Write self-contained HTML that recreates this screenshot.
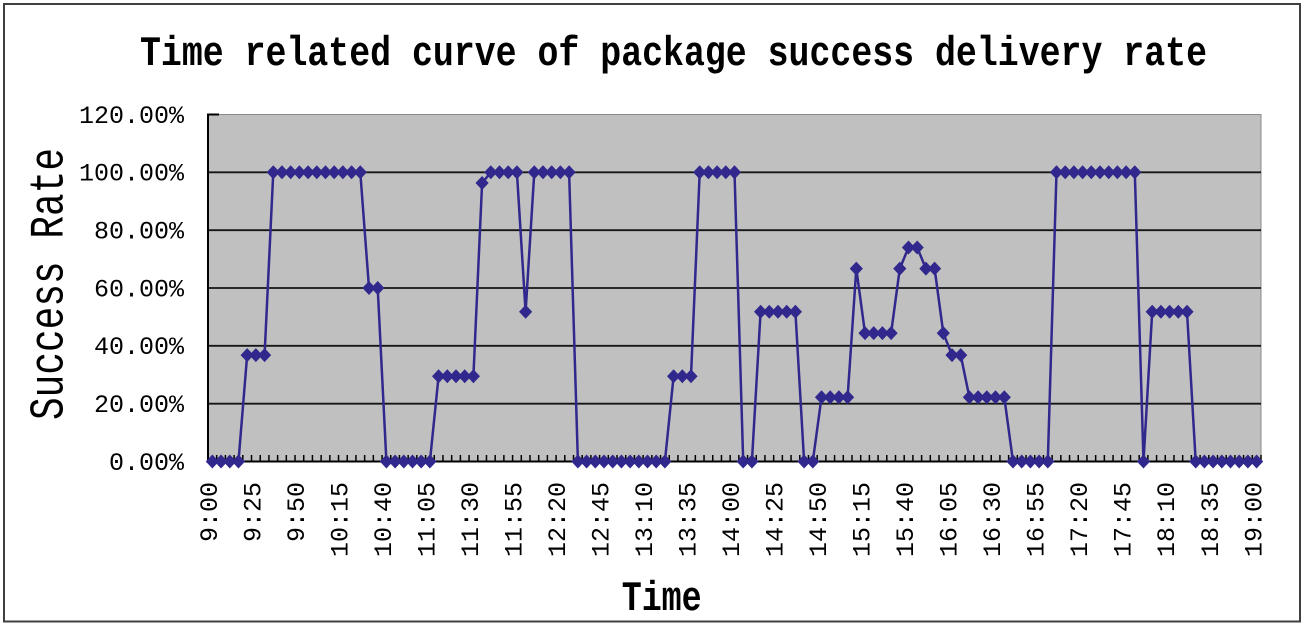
<!DOCTYPE html>
<html>
<head>
<meta charset="utf-8">
<style>
html,body{margin:0;padding:0;background:#fff;}
svg{display:block;}
text{font-family:"Liberation Mono","DejaVu Sans Mono",monospace;fill:#000;}
</style>
</head>
<body>
<svg width="1305" height="628" viewBox="0 0 1305 628" xmlns="http://www.w3.org/2000/svg">
<defs>
<marker id="dm" markerUnits="userSpaceOnUse" viewBox="-8 -8 16 16" markerWidth="16" markerHeight="16" refX="0" refY="0" overflow="visible">
<path d="M0,-7 L6.6,0 L0,7 L-6.6,0 Z" fill="#30288c"/>
</marker>
</defs>
<rect x="0" y="0" width="1305" height="628" fill="#fff"/>
<rect x="4" y="4" width="1296" height="617.5" fill="#fff" stroke="#404040" stroke-width="2"/>

<!-- Title -->
<text x="140" y="65" font-size="42" font-weight="bold" textLength="1067" lengthAdjust="spacingAndGlyphs">Time related curve of package success delivery rate</text>

<!-- Plot area -->
<rect x="208" y="114.5" width="1053" height="347" fill="#c0c0c0" stroke="#8a8a8a" stroke-width="1"/>
<g stroke="#151515" stroke-width="1.8">
<line x1="208" y1="172.33" x2="1261" y2="172.33"/>
<line x1="208" y1="230.17" x2="1261" y2="230.17"/>
<line x1="208" y1="288" x2="1261" y2="288"/>
<line x1="208" y1="345.83" x2="1261" y2="345.83"/>
<line x1="208" y1="403.67" x2="1261" y2="403.67"/>
</g>
<line x1="208" y1="113.5" x2="208" y2="462.5" stroke="#000" stroke-width="2"/>
<line x1="207" y1="461.5" x2="1261.5" y2="461.5" stroke="#000" stroke-width="2"/>
<line x1="208" y1="114.5" x2="219" y2="114.5" stroke="#000" stroke-width="2"/>
<line x1="207.25" y1="458" x2="1262" y2="458" stroke="#000" stroke-width="6" stroke-dasharray="1.5 7.2025"/>

<!-- Y labels -->
<g font-size="25" text-anchor="end">
<text x="184" y="469.8">0.00%</text>
<text x="184" y="412">20.00%</text>
<text x="184" y="354.1">40.00%</text>
<text x="184" y="296.3">60.00%</text>
<text x="184" y="238.5">80.00%</text>
<text x="184" y="180.6">100.00%</text>
<text x="184" y="122.8">120.00%</text>
</g>

<!-- X labels -->
<g font-size="25" text-anchor="end">
<text transform="translate(216.8,482) rotate(-90)">9:00</text>
<text transform="translate(260.3,482) rotate(-90)">9:25</text>
<text transform="translate(303.8,482) rotate(-90)">9:50</text>
<text transform="translate(347.4,482) rotate(-90)">10:15</text>
<text transform="translate(390.9,482) rotate(-90)">10:40</text>
<text transform="translate(434.4,482) rotate(-90)">11:05</text>
<text transform="translate(477.9,482) rotate(-90)">11:30</text>
<text transform="translate(521.4,482) rotate(-90)">11:55</text>
<text transform="translate(565.0,482) rotate(-90)">12:20</text>
<text transform="translate(608.5,482) rotate(-90)">12:45</text>
<text transform="translate(652.0,482) rotate(-90)">13:10</text>
<text transform="translate(695.5,482) rotate(-90)">13:35</text>
<text transform="translate(739.0,482) rotate(-90)">14:00</text>
<text transform="translate(782.6,482) rotate(-90)">14:25</text>
<text transform="translate(826.1,482) rotate(-90)">14:50</text>
<text transform="translate(869.6,482) rotate(-90)">15:15</text>
<text transform="translate(913.1,482) rotate(-90)">15:40</text>
<text transform="translate(956.6,482) rotate(-90)">16:05</text>
<text transform="translate(1000.2,482) rotate(-90)">16:30</text>
<text transform="translate(1043.7,482) rotate(-90)">16:55</text>
<text transform="translate(1087.2,482) rotate(-90)">17:20</text>
<text transform="translate(1130.7,482) rotate(-90)">17:45</text>
<text transform="translate(1174.2,482) rotate(-90)">18:10</text>
<text transform="translate(1217.8,482) rotate(-90)">18:35</text>
<text transform="translate(1261.3,482) rotate(-90)">19:00</text>
</g>

<!-- Axis titles -->
<text x="621.7" y="610" font-size="42" font-weight="bold" textLength="80" lengthAdjust="spacingAndGlyphs">Time</text>
<text transform="translate(62.7,420) rotate(-90)" font-size="48" textLength="272" lengthAdjust="spacingAndGlyphs">Success Rate</text>

<!-- Series -->
<polyline fill="none" stroke="#30288c" stroke-width="2.5" stroke-linejoin="round"
marker-start="url(#dm)" marker-mid="url(#dm)" marker-end="url(#dm)"
points="
212.35,461.5 221.05,461.5 229.76,461.5 238.46,461.5
247.16,355.1 255.86,355.1 264.57,355.1
273.27,172.3 281.97,172.3 290.67,172.3 299.38,172.3 308.08,172.3 316.78,172.3 325.48,172.3 334.19,172.3 342.89,172.3 351.59,172.3 360.29,172.3
369.0,288.0 377.7,288.0
386.4,461.5 395.1,461.5 403.8,461.5 412.5,461.5 421.2,461.5 429.9,461.5
438.6,376.2 447.3,376.2 456.0,376.2 464.7,376.2 473.4,376.2
482.1,183.0
490.8,172.3 499.5,172.3 508.2,172.3 516.9,172.3
525.6,311.7
534.3,172.3 543.0,172.3 551.7,172.3 560.4,172.3 569.1,172.3
577.9,461.5 586.6,461.5 595.3,461.5 604.0,461.5 612.7,461.5 621.4,461.5 630.1,461.5 638.8,461.5 647.5,461.5 656.2,461.5 664.9,461.5
673.6,376.2 682.3,376.2 691.0,376.2
699.7,172.3 708.4,172.3 717.1,172.3 725.8,172.3 734.5,172.3
743.2,461.5 751.9,461.5
760.6,311.7 769.3,311.7 778.0,311.7 786.7,311.7 795.4,311.7
804.1,461.5 812.8,461.5
821.5,397.3 830.2,397.3 838.9,397.3 847.6,397.3
856.3,268.6
865.0,333.1 873.7,333.1 882.4,333.1 891.1,333.1
899.8,268.6
908.5,247.5 917.2,247.5
925.9,268.6 934.6,268.6
943.3,333.1
952.0,355.1 960.7,355.1
969.4,397.3 978.1,397.3 986.8,397.3 995.5,397.3 1004.3,397.3
1013.0,461.5 1021.7,461.5 1030.4,461.5 1039.1,461.5 1047.8,461.5
1056.5,172.3 1065.2,172.3 1073.9,172.3 1082.6,172.3 1091.3,172.3 1100.0,172.3 1108.7,172.3 1117.4,172.3 1126.1,172.3 1134.8,172.3
1143.5,461.5
1152.2,311.7 1160.9,311.7 1169.6,311.7 1178.3,311.7 1187.0,311.7
1195.7,461.5 1204.4,461.5 1213.1,461.5 1221.8,461.5 1230.5,461.5 1239.2,461.5 1247.9,461.5 1256.6,461.5
"/>
</svg>
</body>
</html>
